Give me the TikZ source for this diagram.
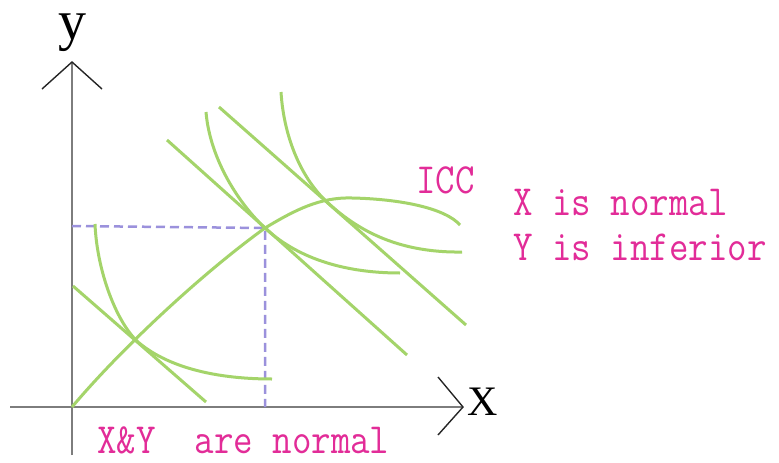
\documentclass[tikz,border=0pt]{standalone}
\usepackage{fontspec}
\newfontfamily\monof[FakeStretch=0.88]{Latin Modern Mono}
\newfontfamily\seriff{Liberation Serif}
\definecolor{curvegreen}{RGB}{164,212,106}
\definecolor{dashblue}{RGB}{155,145,220}
\definecolor{labelpink}{RGB}{226,44,152}
\definecolor{axisgray}{RGB}{125,125,125}
\tikzset{
  axisline/.style={draw=axisgray, line width=2pt},
  arrowarm/.style={draw=black!85, line width=1.4pt},
  curve/.style={draw=curvegreen, line width=3pt},
  guide/.style={draw=dashblue, line width=2.5pt, dash pattern=on 9pt off 5pt},
  pinktext/.style={text=labelpink, inner sep=0pt, anchor=base west, font=\monof\fontsize{43}{43}\selectfont},
}
\begin{document}
\begin{tikzpicture}[x=1pt,y=-1pt]
\useasboundingbox (0,0) rectangle (779,463);
\fill[white] (0,0) rectangle (779,463);
% axes
\coordinate (O) at (72,407);
\coordinate (ytop) at (72,62);
\coordinate (ybot) at (72,455);
\coordinate (xleft) at (10,407);
\coordinate (xright) at (463,407);
\draw[axisline] (ybot) -- (ytop);
\draw[axisline] (xleft) -- (xright);
\draw[arrowarm] (42,89) -- (ytop) -- (102,89);
\draw[arrowarm] (438,377) -- (xright) -- (438,435);
\node[anchor=base, inner sep=0pt, font=\seriff\fontsize{56}{56}\selectfont] (ylab) at (72,39) {y};
\node[anchor=base west, inner sep=0pt, font=\seriff\fontsize{42}{42}\selectfont] (xlab) at (467,415) {X};
% tangency points
\coordinate (E1) at (138,342);
\coordinate (E2) at (265,228);
\coordinate (E3) at (327,202);
% guides
\draw[guide] (72,226) -- (E2) -- (265,407);
% budget lines
\draw[curve] (73,286) -- (206,402);
\draw[curve] (167,140) -- (407,355);
\draw[curve] (219,107) -- (466,325);
% indifference curves
\draw[curve] (95,224) .. controls (97,272) and (117,323) .. (E1)
  .. controls (165,365) and (210,379) .. (272,379);
\draw[curve] (206,112) .. controls (210,160) and (240,205) .. (E2)
  .. controls (295,256) and (340,273) .. (400,273);
\draw[curve] (281,92) .. controls (284,140) and (303,180) .. (E3)
  .. controls (355,228) and (395,253) .. (462,252);
% ICC
\draw[curve] (O) .. controls (120,350) and (200,275) .. (E2)
  .. controls (295,210) and (320,197) .. (352,198)
  .. controls (400,199) and (445,208) .. (460,225);
% labels
\node[pinktext] (icc) at (416,193) {ICC};
\node[pinktext] (t1) at (513,215) {X is normal};
\node[pinktext] (t2) at (513,260) {Y is inferior};
\node[pinktext] (t3) at (97,453) {X\&Y\ \ are normal};
\end{tikzpicture}
\end{document}
